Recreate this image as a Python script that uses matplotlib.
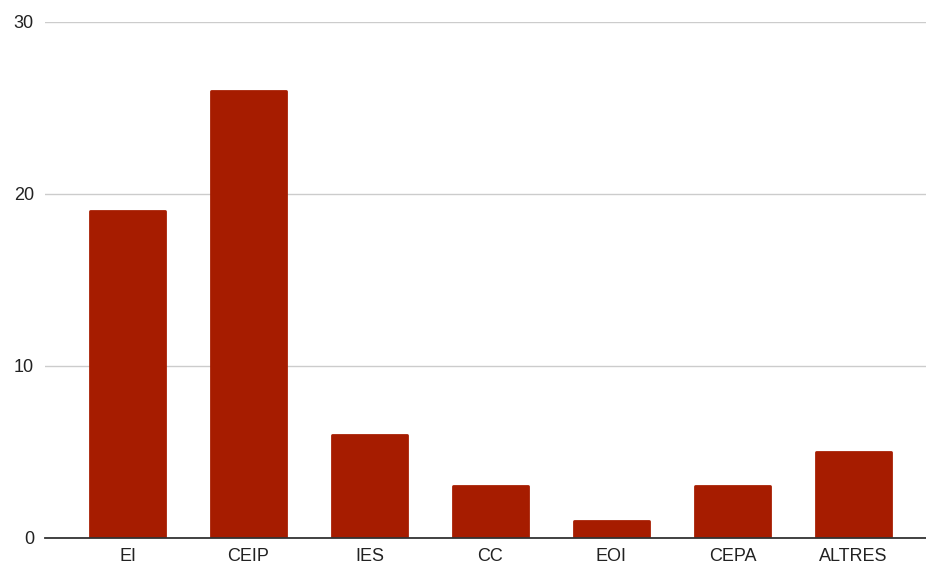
import matplotlib.pyplot as plt

plt.rcParams['font.family'] = ['Liberation Sans', 'DejaVu Sans']

categories = ['EI', 'CEIP', 'IES', 'CC', 'EOI', 'CEPA', 'ALTRES']
values = [19, 26, 6, 3, 1, 3, 5]
y_ticks = [0, 10, 20, 30]

W, H = 926, 565
fig = plt.figure(figsize=(W / 100, H / 100), dpi=100)
ax = fig.add_axes([45 / W, 27 / H, (W - 45) / W, (538 - 22) / H])

bar_color = '#a61c00'
x = range(len(categories))
ax.bar(x, values, width=0.62, color=bar_color, edgecolor=bar_color,
       linewidth=2, joinstyle='round', zorder=3)

ax.set_xlim(-0.682, 6.6)
ax.set_ylim(0, 30)
ax.set_yticks(y_ticks)
ax.set_xticks(list(x))
ax.set_xticklabels(categories)

ax.grid(axis='y', color='#cccccc', linewidth=1, zorder=0)
ax.set_axisbelow(True)
for side in ['top', 'right', 'left']:
    ax.spines[side].set_visible(False)
ax.spines['bottom'].set_color('#333333')
ax.spines['bottom'].set_linewidth(1.3)
ax.spines['bottom'].set_zorder(4)

ax.tick_params(axis='y', length=0, pad=8, labelsize=13, labelcolor='#222222')
ax.tick_params(axis='x', length=0, pad=7, labelsize=13, labelcolor='#222222')

fig.savefig('out.png', dpi=100)
